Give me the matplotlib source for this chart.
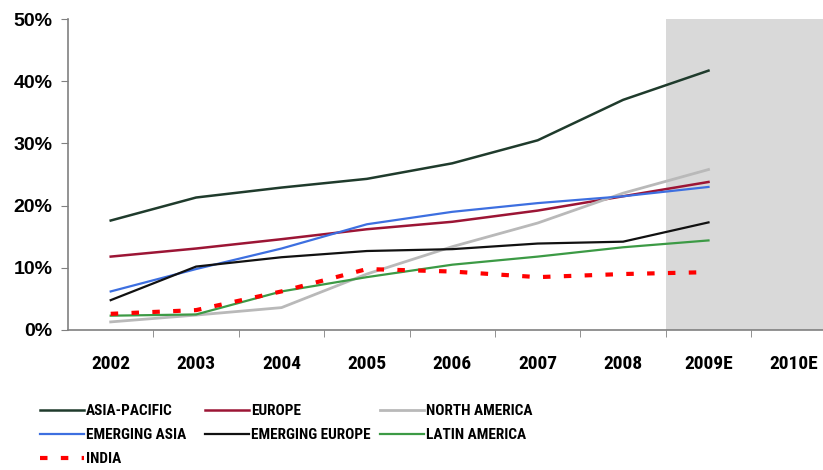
import matplotlib
matplotlib.use('Agg')
import matplotlib.pyplot as plt
import numpy as np

years = ['2002', '2003', '2004', '2005', '2006', '2007', '2008', '2009E', '2010E']

# growth share in % (no values for 2010E)
asia_pacific = [17.6, 21.3, 22.9, 24.3, 26.8, 30.5, 37.0, 41.7]
europe = [11.8, 13.1, 14.6, 16.2, 17.4, 19.2, 21.5, 23.8]
north_america = [1.3, 2.4, 3.6, 9.0, 13.4, 17.2, 22.0, 25.8]
emerging_asia = [6.2, 9.8, 13.1, 17.0, 19.0, 20.4, 21.5, 23.0]
emerging_europe = [4.8, 10.2, 11.7, 12.7, 13.0, 13.9, 14.2, 17.3]
latin_america = [2.3, 2.5, 6.2, 8.5, 10.5, 11.8, 13.3, 14.4]
india = [2.6, 3.2, 6.2, 9.8, 9.4, 8.5, 9.0, 9.3]

plt.rcParams['font.family'] = ['Liberation Sans', 'DejaVu Sans']
narrow = ['Roboto Condensed', 'Arial Narrow', 'Liberation Sans Narrow', 'Archivo Narrow',
          'Liberation Sans']

fig = plt.figure(figsize=(8.23, 4.70), dpi=100)
ax = fig.add_axes([68/823, 140/470, 1 - 68/823, 311/470])

x = np.arange(len(asia_pacific))
right = -0.5 + 755/85.4
ax.axvspan(6.5, right, color='#d9d9d9', lw=0, zorder=0)

h_ap, = ax.plot(x, asia_pacific, color='#1f3b2c', lw=1.8, label='ASIA-PACIFIC')
h_eu, = ax.plot(x, europe, color='#9c1535', lw=1.8, label='EUROPE')
h_na, = ax.plot(x, north_america, color='#b9b9b9', lw=2.0, label='NORTH AMERICA')
h_ea, = ax.plot(x, emerging_asia, color='#3d6fe0', lw=1.6, label='EMERGING ASIA')
h_ee, = ax.plot(x, emerging_europe, color='#111111', lw=1.6, label='EMERGING EUROPE')
h_la, = ax.plot(x, latin_america, color='#3c9a45', lw=1.6, label='LATIN AMERICA')
h_in, = ax.plot(x, india, color='#ff0000', lw=3.0, ls=(0, (1.8, 3.2)), label='INDIA')

ax.set_xlim(-0.5, right)
ax.set_ylim(0, 50)
ax.set_yticks(range(0, 51, 10))
ax.set_yticklabels([f'{v}%' for v in range(0, 51, 10)], fontsize=14, fontweight='bold')
ax.set_xticks(range(len(years)))
ax.set_xticklabels(years, fontsize=14, fontweight='bold', family=narrow)
ax.set_xticks(np.arange(0.5, 8, 1), minor=True)
ax.tick_params(axis='x', which='major', length=0, pad=18)
ax.tick_params(axis='x', which='minor', length=5, color='#808080', direction='out')
ax.tick_params(axis='y', length=5, color='#808080', pad=6)

for s in ['top', 'right']:
    ax.spines[s].set_visible(False)
for s in ['left', 'bottom']:
    ax.spines[s].set_color('#808080')
    ax.spines[s].set_linewidth(1.2)

# one legend per column so the columns sit where the original has them
columns = [([h_ap, h_ea, h_in], 40), ([h_eu, h_ee], 205), ([h_na, h_la], 380)]
for hs, left in columns:
    fig.legend(handles=hs, labels=[h.get_label() for h in hs],
               loc='upper left', bbox_to_anchor=(left/823, 1 - 404/470), frameon=False,
               handlelength=2.9, handletextpad=0.12, labelspacing=0.66, borderaxespad=0,
               borderpad=0, prop={'family': narrow, 'size': 11, 'weight': 'bold'})

fig.savefig('out.png', dpi=100)
